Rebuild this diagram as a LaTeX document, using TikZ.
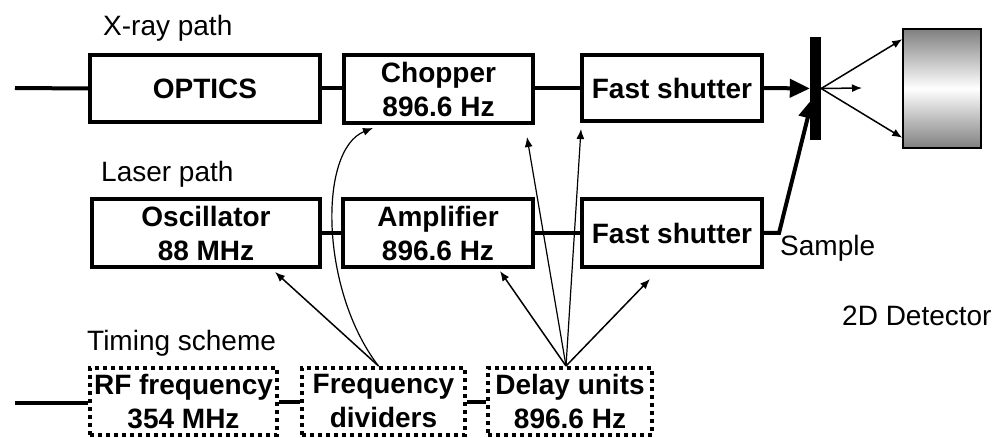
\documentclass[tikz,border=0pt]{standalone}
\usepackage{fontspec}
\setmainfont{Liberation Sans}
\usetikzlibrary{arrows.meta,calc}

\begin{document}
\begin{tikzpicture}[x=1pt, y=-1pt,
    box/.style={rectangle, draw, line width=4pt, align=center, inner sep=0pt,
      font=\fontsize{28}{34}\selectfont\bfseries, minimum height=68pt},
    tbox/.style={box, dash pattern=on 4pt off 4pt, minimum height=67pt},
    lnk/.style={line width=4pt},
    fl/.style={-{Latex[length=10pt,width=8pt]}, line width=1.5pt},
    beam/.style={-{Triangle[length=20pt,width=18pt]}, line width=4pt},
    lbl/.style={anchor=base west, inner sep=0pt, font=\fontsize{28}{34}\selectfont}]
    \useasboundingbox (0,0) rectangle (992,438);
    % X-ray path
    \node[lbl] (xlbl) at (103,36) {X-ray path};
    \coordinate (xin) at (15,88);
    \node[box, minimum width=230pt, minimum height=67pt] (optics) at (205,88.5) {OPTICS};
    \node[box, minimum width=189pt] (chop) at (438.5,89) {Chopper\\896.6 Hz};
    \node[box, minimum width=180pt, minimum height=66pt] (xshut) at (672,88) {Fast shutter};
    \draw[lnk] (xin) -- (optics.west);
    \draw[lnk] (optics.east) -- (chop.west |- optics.east);
    \draw[lnk] (chop.east |- xshut.west) -- (xshut.west);
    % Laser path
    \node[lbl] (llbl) at (101,182) {Laser path};
    \node[box, minimum width=228pt] (osc) at (206,233) {Oscillator\\88 MHz};
    \node[box, minimum width=190pt] (amp) at (438,233) {Amplifier\\896.6 Hz};
    \node[box, minimum width=180pt] (lshut) at (672,233) {Fast shutter};
    \draw[lnk] (osc.east) -- (amp.west);
    \draw[lnk] (amp.east) -- (lshut.west);
    % sample and detector
    \node[rectangle, fill=black, inner sep=0pt, minimum width=11pt,
      minimum height=103pt] (sample) at (815.5,88.5) {};
    \node[rectangle, draw, line width=1.5pt, inner sep=0pt, minimum width=78pt,
      minimum height=119pt, top color=black!50, bottom color=black!50,
      middle color=white] (det) at (942,88.5) {};
    \draw[beam] (xshut.east) -- (sample.west);
    \draw[beam] (lshut.east) -- ($(lshut.east)+(15,0)$) -- ($(sample.center)+(-3,10)$);
    \coordinate (straight) at (862,88);
    \draw[fl] (sample.east) -- ($(det.north west)+(0,11)$);
    \draw[fl] (sample.east) -- ($(det.south west)+(0,-11)$);
    \draw[fl] (sample.east) -- (straight);
    \node[lbl] (slbl) at (780,255) {Sample};
    \node[lbl] (dlbl) at (842,325) {2D Detector};
    % Timing scheme
    \node[lbl] (tlbl) at (87,350) {Timing scheme};
    \coordinate (tin) at (15,403);
    \node[tbox, minimum width=187pt] (rf) at (183.5,401.5) {RF frequency\\354 MHz};
    \node[tbox, minimum width=163pt] (fdiv) at (383.5,401.5) {Frequency\\dividers};
    \node[tbox, minimum width=164pt] (delay) at (570,401.5) {Delay units\\896.6 Hz};
    \draw[lnk] (tin) -- (rf.west |- tin);
    \draw[lnk] (rf.east) -- (fdiv.west);
    \draw[lnk] (fdiv.east) -- (delay.west);
    % trigger arrows
    \draw[fl] ($(fdiv.north)+(-5,0)$) -- ($(osc.south east)+(-47,3)$);
    \draw[fl, line width=1.2pt] ($(fdiv.north)+(-5,0)$) .. controls (320,290) and (318,150)
      .. ($(chop.south west)+(31,3)$);
    \draw[fl] ($(delay.north)+(-4,0)$) -- ($(amp.south east)+(-35,2)$);
    \draw[fl, line width=1.2pt] ($(delay.north)+(-4,0)$) -- ($(chop.south east)+(-8,12)$);
    \draw[fl, line width=1.2pt] ($(delay.north)+(-4,0)$) -- ($(xshut.south west)+(1,6)$);
    \draw[fl] ($(delay.north)+(-4,0)$) -- ($(lshut.south)+(-22,10)$);
  \end{tikzpicture}
\end{document}
